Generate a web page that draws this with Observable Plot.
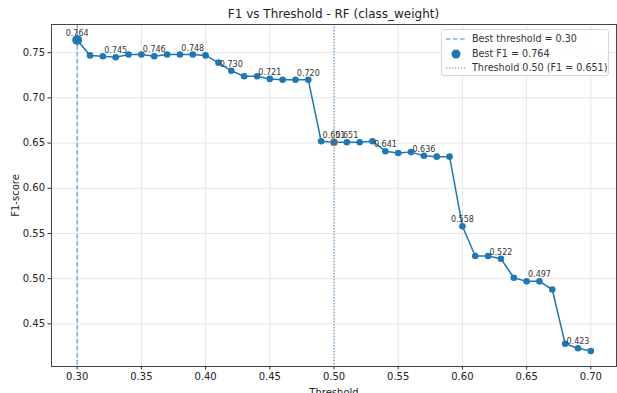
<!DOCTYPE html>
<html><head><meta charset="utf-8">
<script src="https://cdn.jsdelivr.net/npm/d3@7"></script>
<script src="https://cdn.jsdelivr.net/npm/@observablehq/plot@0.6"></script>
<style>
body{margin:0;background:#fff;font-family:"DejaVu Sans",sans-serif;}
#wrap{position:relative;width:617px;height:393px;overflow:hidden;}
#title{height:24px;line-height:29px;margin-left:51px;width:565px;text-align:center;font-size:12px;color:#222;}
#legend{position:absolute;left:441px;top:29px;width:168px;height:47px;box-sizing:border-box;border:1px solid #d6d6d6;border-radius:3px;background:rgba(255,255,255,0.85);font-size:9.6px;color:#333;}
.row{position:absolute;left:0;height:14px;width:167px;}
.row svg{position:absolute;left:3px;top:0;}
.row span{position:absolute;left:30px;top:0;line-height:14px;white-space:nowrap;}
</style></head>
<body>
<div id="wrap">
  <div id="title"></div>
  <div id="chart"></div>
  <div id="legend"></div>
</div>
<script>
const titleText = "F1 vs Threshold - RF (class_weight)";
const thresholds = [0.30,0.31,0.32,0.33,0.34,0.35,0.36,0.37,0.38,0.39,0.40,0.41,0.42,0.43,0.44,0.45,0.46,0.47,0.48,0.49,0.50,0.51,0.52,0.53,0.54,0.55,0.56,0.57,0.58,0.59,0.60,0.61,0.62,0.63,0.64,0.65,0.66,0.67,0.68,0.69,0.70];
const f1Scores  = [0.764,0.747,0.746,0.745,0.748,0.748,0.746,0.748,0.748,0.748,0.747,0.739,0.730,0.724,0.724,0.721,0.720,0.720,0.720,0.652,0.651,0.651,0.651,0.652,0.641,0.639,0.640,0.636,0.635,0.635,0.558,0.525,0.525,0.522,0.501,0.497,0.497,0.488,0.428,0.423,0.420];
const annotatedThresholds = [0.30,0.33,0.36,0.39,0.42,0.45,0.48,0.50,0.51,0.54,0.57,0.60,0.63,0.66,0.69];
const bestThreshold = 0.30;
const bestF1 = 0.764;
const refThreshold = 0.50;
const refF1 = 0.651;
const xTicks = [0.30,0.35,0.40,0.45,0.50,0.55,0.60,0.65,0.70];
const yTicks = [0.45,0.50,0.55,0.60,0.65,0.70,0.75];
const legendLabels = ["Best threshold = 0.30","Best F1 = 0.764","Threshold 0.50 (F1 = 0.651)"];

const data = thresholds.map((t,i)=>({t, f1: f1Scores[i]}));
const annotated = data.filter(d => annotatedThresholds.some(a => Math.abs(a - d.t) < 1e-9));
const blue = "#1f77b4";
const fmt = d3.format(".2f");

document.getElementById("title").textContent = titleText;

const chart = Plot.plot({
  width: 617,
  height: 369,
  marginTop: 0,
  marginBottom: 27,
  marginLeft: 51,
  marginRight: 1,
  style: {fontFamily: '"DejaVu Sans",sans-serif', fontSize: "10px", color: "#222", background: "transparent", overflow: "visible"},
  x: {domain: [0.28, 0.72]},
  y: {domain: [0.4028, 0.7812]},
  marks: [
    Plot.gridX(xTicks, {stroke: "#e6e6e6", strokeOpacity: 1}),
    Plot.gridY(yTicks, {stroke: "#e6e6e6", strokeOpacity: 1}),
    Plot.ruleX([bestThreshold], {stroke: blue, strokeOpacity: 0.85, strokeWidth: 1, strokeDasharray: "4.5,2.5"}),
    Plot.ruleX([refThreshold], {stroke: blue, strokeOpacity: 0.85, strokeWidth: 1, strokeDasharray: "1.2,1.8"}),
    Plot.line(data, {x: "t", y: "f1", stroke: blue, strokeWidth: 1.5}),
    Plot.dot([{t: refThreshold, f1: refF1}], {x: "t", y: "f1", r: 3.9, fill: "#ff7f0e"}),
    Plot.dot(data, {x: "t", y: "f1", r: 3.3, fill: blue}),
    Plot.dot([{t: bestThreshold, f1: bestF1}], {x: "t", y: "f1", r: 5, fill: blue}),
    Plot.text(annotated, {x: "t", y: "f1", text: d => d.f1.toFixed(3), dy: -6.5, fontSize: 8, fill: "#333", textAnchor: "middle"}),
    Plot.frame({stroke: "#333", strokeWidth: 0.9}),
    Plot.axisX(xTicks, {tickFormat: fmt, tickSize: 3.5, tickPadding: 3, stroke: "#333", label: "Threshold", labelAnchor: "center", labelArrow: "none", labelOffset: 29, fontSize: 10}),
    Plot.axisY(yTicks, {tickFormat: fmt, tickSize: 3.5, tickPadding: 3, stroke: "#333", label: "F1-score", labelAnchor: "center", labelArrow: "none", labelOffset: 40, fontSize: 10})
  ]
});
document.getElementById("chart").appendChild(chart);

// Legend overlay
const legend = document.getElementById("legend");
const swatches = [
  `<svg width="22" height="14"><line x1="1" y1="7" x2="21" y2="7" stroke="${blue}" stroke-opacity="0.85" stroke-width="1" stroke-dasharray="4.5,2.5"/></svg>`,
  `<svg width="22" height="14"><circle cx="11" cy="7" r="4.5" fill="${blue}"/></svg>`,
  `<svg width="22" height="14"><line x1="1" y1="7" x2="21" y2="7" stroke="${blue}" stroke-opacity="0.85" stroke-width="1" stroke-dasharray="1.2,1.8"/></svg>`
];
const rowTops = [2, 17, 31];
legendLabels.forEach((lab, i) => {
  const row = document.createElement("div");
  row.className = "row";
  row.style.top = rowTops[i] + "px";
  row.innerHTML = swatches[i] + `<span>${lab}</span>`;
  legend.appendChild(row);
});
</script>
</body></html>
